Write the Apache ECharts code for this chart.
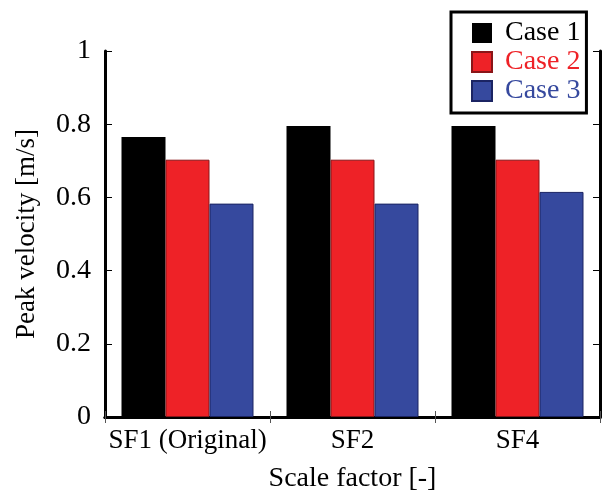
<!DOCTYPE html>
<html>
<head>
<meta charset="utf-8">
<script src="https://cdn.jsdelivr.net/npm/echarts@6/dist/echarts.min.js"></script>
<style>html,body{margin:0;padding:0;background:#fff}#c{width:603px;height:494px}</style>
</head>
<body>
<div id="c"></div>
<script>
var categories = ['SF1 (Original)', 'SF2', 'SF4'];
var seriesNames = ['Case 1', 'Case 2', 'Case 3'];
var case1 = [0.765, 0.795, 0.795];
var case2 = [0.703, 0.703, 0.703];
var case3 = [0.583, 0.583, 0.615];
var yTicks = [0, 0.2, 0.4, 0.6, 0.8, 1];

var FONT = "'Liberation Serif', 'Times New Roman', serif";
var colors = ['#000000', '#ee2227', '#36499e'];
var borders = ['#000000', '#8a1518', '#1b2463'];
var textColors = ['#000000', '#ee2227', '#36499e'];
var values = [case1, case2, case3];

var chart = echarts.init(document.getElementById('c'), null, {renderer: 'canvas'});
var axisLine = {show: true, lineStyle: {color: '#000', width: 3}};
var option = {
  animation: false,
  backgroundColor: '#fff',
  grid: {left: 105, right: 3, top: 51, bottom: 77, show: false, containLabel: false, outerBoundsMode: 'none'},
  legend: {
    orient: 'vertical',
    left: 451, top: 12,
    width: 137,
    padding: [7, 6, 8, 20],
    backgroundColor: '#fff',
    borderColor: '#000',
    borderWidth: 3,
    itemWidth: 20, itemHeight: 20, itemGap: 1,
    icon: 'rect',
    textStyle: {fontFamily: FONT, fontSize: 28, lineHeight: 28, padding: [0, 0, 0, 8]},
    data: seriesNames.map(function (n, i) {
      return {name: n, textStyle: {color: textColors[i]}};
    })
  },
  xAxis: [{
    type: 'category',
    data: categories,
    position: 'bottom',
    axisLine: axisLine,
    axisTick: {show: true, inside: true, length: 6, lineStyle: {color: '#555', width: 1}, interval: 0},
    axisLabel: {fontFamily: FONT, fontSize: 27, color: '#000', margin: 10, interval: 0},
    name: 'Scale factor [-]',
    nameLocation: 'middle',
    nameGap: 48,
    nameTextStyle: {fontFamily: FONT, fontSize: 28, color: '#000'}
  }, {
    type: 'category',
    data: categories,
    position: 'top',
    axisLine: axisLine,
    axisTick: {show: true, inside: true, length: 6, lineStyle: {color: '#555', width: 1}, interval: 0},
    axisLabel: {show: false}
  }],
  yAxis: [{
    type: 'value',
    min: yTicks[0], max: yTicks[yTicks.length - 1], interval: 0.2,
    axisLine: axisLine,
    axisTick: {show: true, inside: true, length: 7, lineStyle: {color: '#000', width: 1}},
    splitLine: {show: false},
    axisLabel: {fontFamily: FONT, fontSize: 28, color: '#000', margin: 14,
      formatter: function (v) { return (v === 0 || v === 1) ? String(v) : v.toFixed(1); }},
    name: 'Peak velocity [m/s]',
    nameLocation: 'middle',
    nameGap: 65,
    nameRotate: 90,
    nameTextStyle: {fontFamily: FONT, fontSize: 27, color: '#000'}
  }, {
    type: 'value',
    position: 'right',
    min: yTicks[0], max: yTicks[yTicks.length - 1], interval: 0.2,
    axisLine: axisLine,
    axisTick: {show: true, inside: true, length: 7, lineStyle: {color: '#000', width: 1}},
    splitLine: {show: false},
    axisLabel: {show: false}
  }],
  series: seriesNames.map(function (n, i) {
    return {
      name: n,
      type: 'bar',
      xAxisIndex: 0, yAxisIndex: 0,
      data: values[i],
      barGap: '0%',
      barCategoryGap: '20%',
      itemStyle: {color: colors[i], borderColor: borders[i], borderWidth: i === 0 ? 0 : 1}
    };
  })
};
chart.setOption(option);
</script>
</body>
</html>
